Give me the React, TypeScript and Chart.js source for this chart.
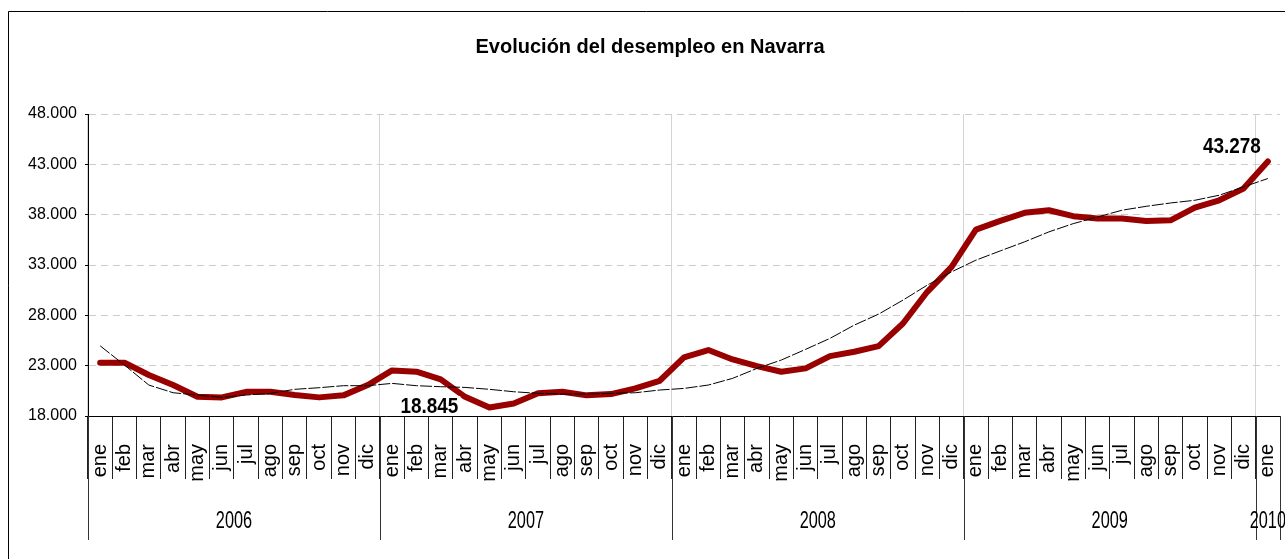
import { useEffect, useRef } from 'react';
import { Chart, registerables } from 'chart.js';

Chart.register(...registerables);

const TITLE = 'Evolución del desempleo en Navarra';
const MONTHS = ['ene', 'feb', 'mar', 'abr', 'may', 'jun', 'jul', 'ago', 'sep', 'oct', 'nov', 'dic'];
const YEARS = ['2006', '2007', '2008', '2009', '2010'];
const CATEGORIES = [...MONTHS, ...MONTHS, ...MONTHS, ...MONTHS, 'ene'];

const PARADOS_2006 = [23300, 23300, 22070, 21080, 19920, 19850, 20400, 20400, 20080, 19850, 20050, 21070];
const PARADOS_2007 = [22530, 22400, 21640, 19900, 18845, 19250, 20250, 20410, 20050, 20180, 20740, 21500];
const PARADOS_2008 = [23820, 24550, 23620, 22960, 22400, 22730, 23950, 24380, 24940, 27190, 30340, 32810];
const PARADOS_2009 = [36520, 37380, 38180, 38440, 37850, 37610, 37610, 37380, 37440, 38700, 39430, 40590];
const PARADOS_2010 = [43278];

const TENDENCIA_2006 = [24970, 23060, 21075, 20310, 20080, 19850, 20080, 20250, 20650, 20810, 21010, 21010];
const TENDENCIA_2007 = [21240, 21010, 20910, 20840, 20650, 20410, 20250, 20180, 20180, 20250, 20310, 20580];
const TENDENCIA_2008 = [20740, 21075, 21740, 22730, 23560, 24620, 25710, 27030, 28120, 29510, 31000, 32320];
const TENDENCIA_2009 = [33480, 34400, 35300, 36290, 37110, 37770, 38440, 38830, 39160, 39430, 39930, 40760];
const TENDENCIA_2010 = [41590];

const PARADOS = [...PARADOS_2006, ...PARADOS_2007, ...PARADOS_2008, ...PARADOS_2009, ...PARADOS_2010];
const TENDENCIA = [...TENDENCIA_2006, ...TENDENCIA_2007, ...TENDENCIA_2008, ...TENDENCIA_2009, ...TENDENCIA_2010];

const Y_MIN = 18000;
const Y_MAX = 48000;
const Y_STEP = 5000;

const FONT = '"Liberation Sans", Arial, Helvetica, sans-serif';

const fmt = (v: number) => Math.round(v).toString().replace(/\B(?=(\d{3})+(?!\d))/g, '.');

const extrasPlugin = {
  id: 'extras',
  afterDraw(chart: any) {
    const ctx = chart.ctx as CanvasRenderingContext2D;
    const xs = chart.scales.x;
    const ys = chart.scales.y;
    const area = chart.chartArea;

    ctx.save();
    // outer frame (only top and left visible)
    ctx.strokeStyle = '#000';
    ctx.lineWidth = 1;
    ctx.beginPath();
    ctx.moveTo(8.5, 559);
    ctx.lineTo(8.5, 11.5);
    ctx.lineTo(1285, 11.5);
    ctx.stroke();

    // year separators below the axis
    const bounds: number[] = [];
    for (let i = 0; i < YEARS.length; i++) bounds.push(xs.getPixelForValue(i * 12 - 0.5));
    bounds.push(xs.getPixelForValue(CATEGORIES.length - 0.5));
    ctx.strokeStyle = '#333';
    ctx.beginPath();
    for (const b of bounds) {
      const px = Math.round(b) + 0.5;
      ctx.moveTo(px, area.bottom);
      ctx.lineTo(px, 540);
    }
    ctx.stroke();

    // year labels
    ctx.fillStyle = '#000';
    ctx.font = `24px ${FONT}`;
    ctx.textAlign = 'center';
    ctx.textBaseline = 'alphabetic';
    for (let i = 0; i < YEARS.length; i++) {
      const cx = (bounds[i] + bounds[i + 1]) / 2;
      ctx.save();
      ctx.translate(cx, 528);
      ctx.scale(0.68, 1);
      ctx.fillText(YEARS[i], 0, 0);
      ctx.restore();
    }

    // data labels: minimum and last value
    let minIdx = 0;
    PARADOS.forEach((v, i) => { if (v < PARADOS[minIdx]) minIdx = i; });
    const lastIdx = PARADOS.length - 1;
    const labels = [
      { idx: minIdx, dx: -60, dy: 5.5, bg: true },
      { idx: lastIdx, dx: -36, dy: -9, bg: false },
    ];
    ctx.font = `bold 22px ${FONT}`;
    for (const l of labels) {
      const text = fmt(PARADOS[l.idx]);
      const px = xs.getPixelForValue(l.idx) + l.dx;
      const py = ys.getPixelForValue(PARADOS[l.idx]) + l.dy;
      const w = ctx.measureText(text).width * 0.86;
      if (l.bg) {
        ctx.fillStyle = '#fff';
        ctx.fillRect(px - w / 2 - 2, py - 17, w + 4, 19);
      }
      ctx.fillStyle = '#000';
      ctx.save();
      ctx.translate(px, py);
      ctx.scale(0.86, 1);
      ctx.textAlign = 'center';
      ctx.fillText(text, 0, 0);
      ctx.restore();
    }
    ctx.restore();
  },
};

export default function App() {
  const ref = useRef<HTMLCanvasElement | null>(null);

  useEffect(() => {
    const canvas = ref.current;
    if (!canvas) return;
    const chart = new Chart(canvas, {
      type: 'line',
      data: {
        labels: CATEGORIES,
        datasets: [
          {
            label: 'Tendencia',
            data: TENDENCIA,
            borderColor: '#000000',
            borderWidth: 1,
            borderDash: [12, 2],
            pointRadius: 0,
            tension: 0,
            fill: false,
            order: 0,
          },
          {
            label: 'Parados',
            data: PARADOS,
            borderColor: '#990000',
            borderWidth: 6,
            borderJoinStyle: 'round',
            borderCapStyle: 'round',
            pointRadius: 0,
            tension: 0,
            fill: false,
            order: 1,
          },
        ],
      },
      options: {
        responsive: false,
        animation: false,
        devicePixelRatio: 1,
        layout: { padding: { left: 20, right: 5, top: 0, bottom: 0 } },
        plugins: {
          legend: { display: false },
          tooltip: { enabled: false },
          title: {
            display: true,
            text: TITLE,
            color: '#000',
            font: { family: FONT, size: 20, weight: 'bold', lineHeight: 1.2 },
            padding: { top: 35, bottom: 55 },
          },
        },
        scales: {
          x: {
            type: 'category',
            offset: true,
            afterFit: (s: any) => { s.height = 143; },
            grid: {
              offset: true,
              color: (c: any) => (typeof c.index === 'number' && c.index % 12 === 0 ? '#d4d4d4' : 'rgba(0,0,0,0)'),
              lineWidth: 1,
              drawTicks: true,
              tickLength: 63,
              tickColor: '#222',
              tickWidth: 1,
            },
            border: { display: true, color: '#000', width: 1 },
            ticks: {
              autoSkip: false,
              minRotation: 90,
              maxRotation: 90,
              padding: -35,
              color: '#000',
              font: { family: FONT, size: 20 },
            },
          },
          y: {
            min: Y_MIN,
            max: Y_MAX,
            afterFit: (s: any) => { s.width = 68; },
            ticks: {
              stepSize: Y_STEP,
              callback: (v: any) => fmt(Number(v)),
              color: '#000',
              font: { family: FONT, size: 16 },
              padding: 8,
            },
            grid: { color: '#cccccc', lineWidth: 1, tickColor: '#000', tickLength: 3 },
            border: { display: true, color: '#000', width: 1, dash: [7, 5] },
          },
        },
      },
      plugins: [extrasPlugin],
    } as any);
    return () => chart.destroy();
  }, []);

  return (
    <div style={{ position: 'absolute', left: 0, top: 0, width: 1285, height: 559, background: '#fff' }}>
      <canvas ref={ref} width={1285} height={559} style={{ display: 'block', width: 1285, height: 559 }} />
    </div>
  );
}
